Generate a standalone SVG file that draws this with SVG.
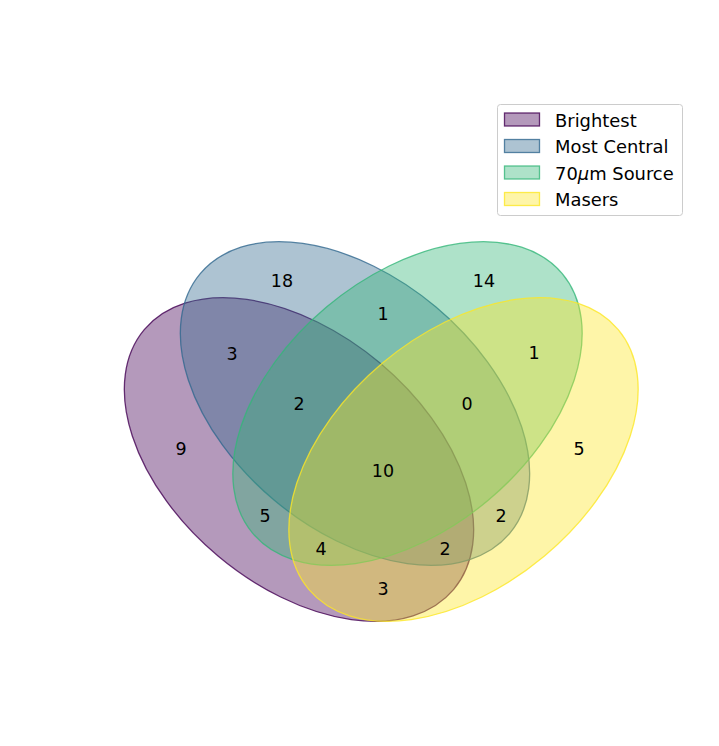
<svg xmlns="http://www.w3.org/2000/svg" width="719" height="746" viewBox="0 0 719 746">
<style>
text{font-family:"DejaVu Sans",sans-serif;font-size:17.5px;fill:#000}
.n{text-anchor:middle;dominant-baseline:central}
.lg{dominant-baseline:central;font-size:17.9px}
.e{stroke-width:1.3}
</style>
<rect width="719" height="746" fill="#fff"/>
<g id="sets">
<g id="brightest"><ellipse class="e" cx="299" cy="459.5" rx="202" ry="126" transform="rotate(40 299 459.5)" fill="#440154" fill-opacity="0.4" stroke="#440154" stroke-opacity="0.8"/></g>
<g id="most-central"><ellipse class="e" cx="355" cy="403.5" rx="202" ry="126" transform="rotate(40 355 403.5)" fill="#31688e" fill-opacity="0.4" stroke="#31688e" stroke-opacity="0.8"/></g>
<g id="source70"><ellipse class="e" cx="407.5" cy="403.5" rx="202" ry="126" transform="rotate(-40 407.5 403.5)" fill="#35b779" fill-opacity="0.4" stroke="#35b779" stroke-opacity="0.8"/></g>
<g id="masers"><ellipse class="e" cx="463.5" cy="459.5" rx="202" ry="126" transform="rotate(-40 463.5 459.5)" fill="#fde725" fill-opacity="0.4" stroke="#fde725" stroke-opacity="0.8"/></g>
</g>
<g id="labels">
<text class="n" x="282" y="281">18</text>
<text class="n" x="484" y="281">14</text>
<text class="n" x="383" y="314">1</text>
<text class="n" x="232" y="354">3</text>
<text class="n" x="534" y="353">1</text>
<text class="n" x="299" y="404">2</text>
<text class="n" x="467" y="404">0</text>
<text class="n" x="181" y="449">9</text>
<text class="n" x="579" y="449">5</text>
<text class="n" x="383" y="471">10</text>
<text class="n" x="265" y="516">5</text>
<text class="n" x="501" y="516">2</text>
<text class="n" x="321" y="549">4</text>
<text class="n" x="445" y="549">2</text>
<text class="n" x="383" y="589">3</text>
</g>
<g id="legend">
<rect x="497.5" y="104.5" width="185" height="111" rx="3" fill="#fff" fill-opacity="0.8" stroke="#cccccc" stroke-width="1"/>
<rect x="504.5" y="113" width="35" height="13" fill="#440154" fill-opacity="0.4" stroke="#440154" stroke-opacity="0.8" stroke-width="1.3"/>
<text class="lg" x="555" y="120">Brightest</text>
<rect x="504.5" y="139.5" width="35" height="13" fill="#31688e" fill-opacity="0.4" stroke="#31688e" stroke-opacity="0.8" stroke-width="1.3"/>
<text class="lg" x="555" y="146.5">Most Central</text>
<rect x="504.5" y="166" width="35" height="13" fill="#35b779" fill-opacity="0.4" stroke="#35b779" stroke-opacity="0.8" stroke-width="1.3"/>
<text class="lg" x="555" y="173">70<tspan font-style="italic">μ</tspan>m Source</text>
<rect x="504.5" y="192.5" width="35" height="13" fill="#fde725" fill-opacity="0.4" stroke="#fde725" stroke-opacity="0.8" stroke-width="1.3"/>
<text class="lg" x="555" y="199.5">Masers</text>
</g>
</svg>
